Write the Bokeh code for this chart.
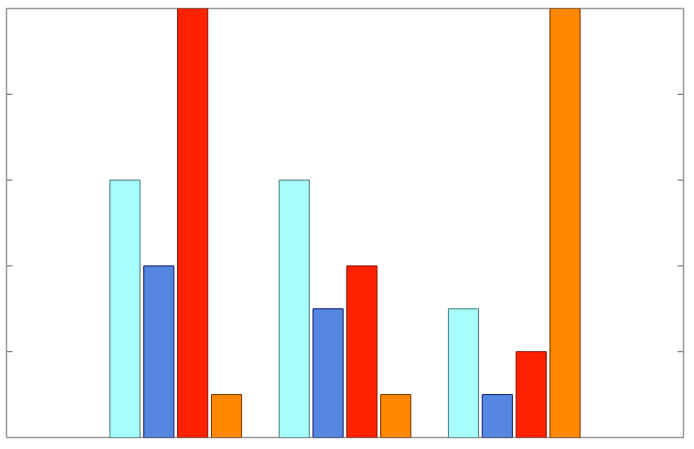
import math
from bokeh.plotting import figure
from bokeh.models import Range1d
from bokeh.embed import file_html
from bokeh.resources import INLINE

groups = [1, 2, 3]
series_cyan = [3, 3, 1.5]
series_blue = [2, 1.5, 0.5]
series_red = [5, 2, 1]
series_orange = [0.5, 0.5, 5]
y_ticks = [1, 2, 3, 4]

series = [
    (series_cyan, -0.3, "#a8fcfc", "#4a7a7a"),
    (series_blue, -0.1, "#5587e0", "#101a70"),
    (series_red, 0.1, "#ff2200", "#8a1000"),
    (series_orange, 0.3, "#ff8800", "#7a3000"),
]

x_range = Range1d(0, 4)
y_range = Range1d(0, 5)

p = figure(width=691, height=445, output_backend="svg", toolbar_location=None,
           x_range=x_range, y_range=y_range,
           x_axis_location=None, y_axis_location=None,
           min_border_left=6, min_border_right=8,
           min_border_top=8, min_border_bottom=8)
p.xgrid.visible = False
p.ygrid.visible = False
p.outline_line_color = "#999999"
p.outline_line_width = 1.5
p.background_fill_color = "white"
p.border_fill_color = "white"

for vals, off, fill, line in series:
    xs = [g + off for g in groups]
    p.vbar(x=xs, top=vals, bottom=0, width=0.178, fill_color=fill,
           line_color=line, line_width=1)

# inward tick marks on left and right frame edges
p.ray(x=[x_range.start] * len(y_ticks), y=y_ticks, length=6, length_units="screen",
      angle=0, line_color="#666666", line_width=1)
p.ray(x=[x_range.end] * len(y_ticks), y=y_ticks, length=6, length_units="screen",
      angle=math.pi, line_color="#666666", line_width=1)

open("out.html", "w").write(file_html(p, INLINE))
